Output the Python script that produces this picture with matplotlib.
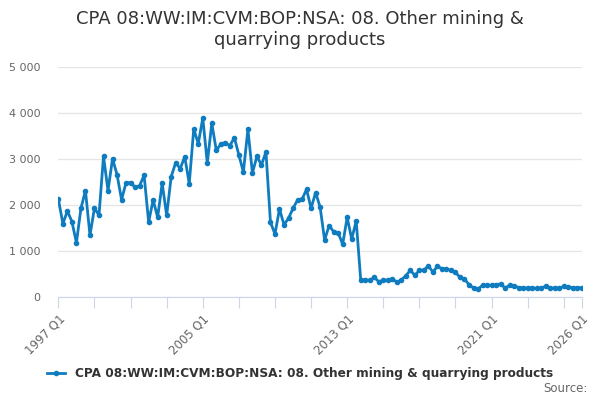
import numpy as np
import matplotlib.pyplot as plt

# quarterly values, 1997 Q1 .. 2026 Q1
start_year = 1997
values = [
    2123, 1594, 1870, 1638, 1181, 1928, 2312, 1341,   # 1997-1998
    1935, 1775, 3058, 2312, 3007, 2659, 2116, 2486,   # 1999-2000
    2486, 2384, 2420, 2645, 1630, 2109, 1732, 2471,   # 2001-2002
    1775, 2616, 2920, 2790, 3051, 2464, 3652, 3333,   # 2003-2004
    3891, 2913, 3775, 3188, 3326, 3355, 3290, 3464,   # 2005-2006
    3087, 2717, 3645, 2696, 3058, 2870, 3152, 1623,   # 2007-2008
    1370, 1913, 1572, 1710, 1928, 2109, 2123, 2341,   # 2009-2010
    1928, 2268, 1957, 1239, 1551, 1420, 1399, 1145,   # 2011-2012
    1732, 1261, 1652, 377, 370, 362, 428, 333,        # 2013-2014
    362, 370, 399, 319, 370, 464, 580, 471,           # 2015-2016
    580, 587, 674, 543, 667, 616, 609, 580,           # 2017-2018
    536, 428, 391, 268, 196, 174, 254, 254,           # 2019-2020
    254, 268, 283, 196, 254, 246, 203, 196,           # 2021-2022
    196, 196, 188, 188, 239, 196, 196, 188,           # 2023-2024
    232, 225, 196, 203, 203,                          # 2025-2026 Q1
]
label_years = [1997, 2005, 2013, 2021, 2026]
tick_years = list(range(1997, 2026, 2)) + [2026]
series_name = "CPA 08:WW:IM:CVM:BOP:NSA: 08. Other mining & quarrying products"
title = "CPA 08:WW:IM:CVM:BOP:NSA: 08. Other mining &\nquarrying products"

x = start_year + np.arange(len(values)) / 4.0

fig = plt.figure(figsize=(6, 4), dpi=100)
ax = fig.add_axes([0.097, 0.2575, 0.873, 0.575])

line, = ax.plot(x, values, color="#0f7cc0", lw=2, marker="o", ms=3,
                label=series_name)

ax.set_ylim(0, 5000)
ax.set_xlim(x[0] - 0.01, x[-1] + 0.01)
ax.set_yticks(range(0, 5001, 1000))
ax.set_yticklabels([f"{v:,}".replace(",", " ") for v in range(0, 5001, 1000)])
ax.grid(axis="y", color="#e6e6e6", lw=1)
ax.set_axisbelow(True)

ax.set_xticks(tick_years)
ax.set_xticklabels([f"{y} Q1" if y in label_years else "" for y in tick_years],
                   rotation=45, ha="right", rotation_mode="anchor")

for s in ["top", "right", "left"]:
    ax.spines[s].set_visible(False)
ax.spines["bottom"].set_color("#ccd6eb")
ax.tick_params(axis="x", length=8, color="#ccd6eb", labelsize=8.5,
               labelcolor="#666666", pad=3)
ax.tick_params(axis="y", length=0, labelsize=8, labelcolor="#666666", pad=13)

fig.suptitle(title, fontsize=13, color="#333333", y=0.975)

fig.legend(handles=[line], loc="center", bbox_to_anchor=(0.5, 0.066),
           frameon=False, prop={"weight": "bold", "size": 8.7},
           labelcolor="#333333", handlelength=1.5)
fig.text(0.98, 0.02, "Source:", ha="right", fontsize=8.5, color="#666666")

fig.savefig("out.png")
